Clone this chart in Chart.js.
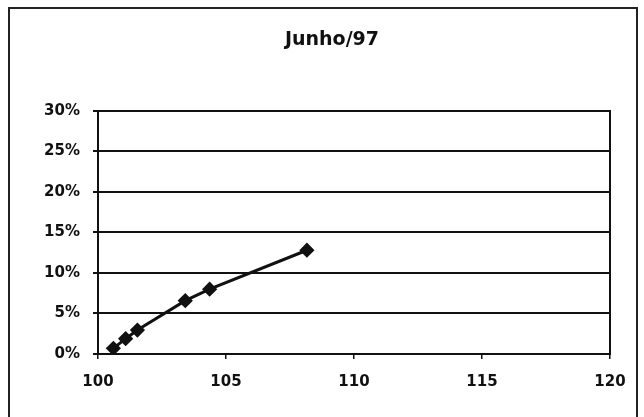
<!DOCTYPE html>
<html>
<head>
<meta charset="utf-8">
<script src="https://cdn.jsdelivr.net/npm/chart.js@4/dist/chart.umd.min.js"></script>
<style>
  html, body { margin: 0; padding: 0; background: #fff; }
  #wrap { position: absolute; left: 0; top: 0; width: 644px; height: 417px; }
  #frame { position: absolute; left: 8px; top: 7px; width: 626px; height: 430px;
           border: 2px solid #222; pointer-events: none; }
</style>
</head>
<body>
<div id="wrap"><canvas id="myChart"></canvas></div>
<div id="frame"></div>
<script>
// dados (Junho/97)
var xValues = [100.6, 101.08, 101.54, 103.41, 104.36, 108.16];
var yValues = [0.007, 0.0189, 0.0296, 0.0658, 0.0799, 0.128];
var xTicks = [100, 105, 110, 115, 120];
var yTicks = [0, 0.05, 0.10, 0.15, 0.20, 0.25, 0.30];

var points = [];
for (let i = 0; i < xValues.length; i++) {
    points.push({ x: xValues[i], y: yValues[i] });
}

var tickFont = { family: 'DejaVu Sans', size: 15, weight: 'bold' };

const ctx = document.getElementById('myChart').getContext('2d');
const myChart = new Chart(ctx, {
    type: 'scatter',
    data: {
        datasets: [{
            data: points,
            showLine: true,
            borderColor: '#111',
            backgroundColor: '#111',
            borderWidth: 3,
            pointStyle: 'rectRot',
            pointRadius: 5.5,
            pointBackgroundColor: '#111',
            pointBorderColor: '#111'
        }]
    },
    options: {
        responsive: true,
        maintainAspectRatio: false,
        animation: false,
        layout: { padding: { left: 20, right: 0, top: 0, bottom: 0 } },
        plugins: {
            legend: { display: false },
            tooltip: { enabled: false },
            title: {
                display: true,
                text: 'Junho/97',
                color: '#111',
                font: { family: 'DejaVu Sans', size: 19, weight: 'bold' },
                padding: { top: 29, bottom: 59 }
            }
        },
        scales: {
            x: {
                type: 'linear',
                min: 100,
                max: 120,
                afterBuildTicks: (s) => { s.ticks = xTicks.map(v => ({ value: v })); },
                afterFit: (s) => { s.height = 63; },
                grid: { drawOnChartArea: false, drawTicks: true, tickLength: 5, color: '#111', lineWidth: 1.5 },
                border: { color: '#111', width: 2 },
                ticks: { color: '#111', padding: 14, font: tickFont }
            },
            y: {
                min: 0,
                max: 0.30,
                afterBuildTicks: (s) => { s.ticks = yTicks.map(v => ({ value: v })); },
                afterFit: (s) => { s.width = 78; },
                grid: { color: '#111', lineWidth: 2, tickLength: 5 },
                border: { color: '#111', width: 2 },
                ticks: {
                    color: '#111',
                    padding: 13,
                    font: tickFont,
                    callback: function (value) {
                        return Math.round(value * 100) + '%';
                    }
                }
            },
            // eixo da direita só para fechar a caixa
            y2: {
                position: 'right',
                min: 0,
                max: 0.30,
                afterFit: (s) => { s.width = 34; },
                grid: { drawOnChartArea: false, drawTicks: false },
                border: { color: '#111', width: 2 },
                ticks: { display: false }
            }
        }
    }
});
</script>
</body>
</html>
